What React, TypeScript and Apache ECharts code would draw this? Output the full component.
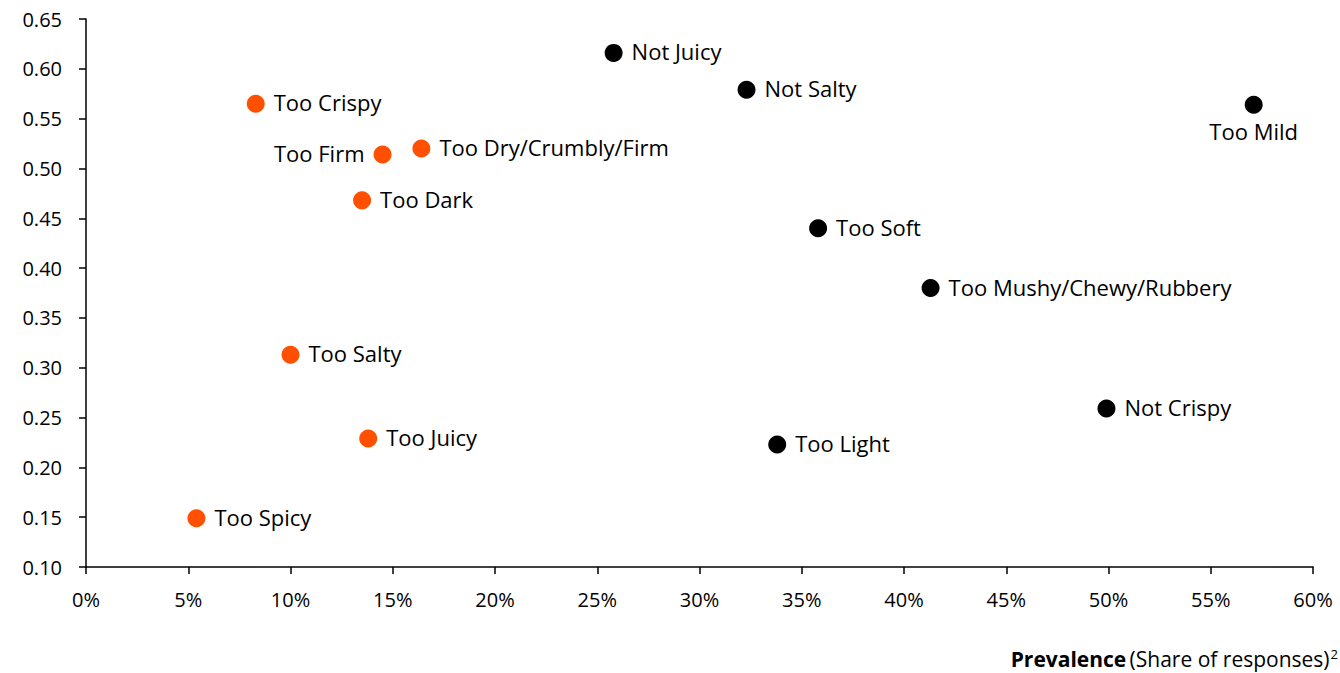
import React, { useEffect, useRef } from "react";
import * as echarts from "echarts";

const blackNames = ["Not Juicy", "Not Salty", "Too Mild", "Too Soft", "Too Mushy/Chewy/Rubbery", "Not Crispy", "Too Light"];
const blackX = [25.8, 32.3, 57.1, 35.8, 41.3, 49.9, 33.8];
const blackY = [0.616, 0.579, 0.564, 0.44, 0.38, 0.259, 0.223];

const orangeNames = ["Too Crispy", "Too Firm", "Too Dry/Crumbly/Firm", "Too Dark", "Too Salty", "Too Juicy", "Too Spicy"];
const orangeX = [8.3, 14.5, 16.4, 13.5, 10.0, 13.8, 5.4];
const orangeY = [0.565, 0.514, 0.52, 0.468, 0.313, 0.229, 0.149];

const labelPos: Record<string, string> = { "Too Firm": "left", "Too Mild": "bottom" };

const FONT = "'Open Sans', 'Noto Sans', sans-serif";

function build(names: string[], xs: number[], ys: number[]) {
  return names.map((n, i) => {
    const pos = labelPos[n] || "right";
    return {
      name: n,
      value: [xs[i], ys[i]],
      label: pos === "bottom" ? { position: pos, distance: 6 } : { position: pos, offset: [0, -1.5] },
    };
  });
}

export default function App() {
  const ref = useRef<HTMLDivElement>(null);
  useEffect(() => {
    const chart = echarts.init(ref.current!, null, { renderer: "svg" });
    const labelStyle = {
      show: true,
      formatter: "{b}",
      fontSize: 22,
      color: "#000",
      fontFamily: FONT,
      distance: 9,
    };
    chart.setOption({
      animation: false,
      grid: { left: 86, right: 27, top: 19, bottom: 106 },
      xAxis: {
        type: "value",
        min: 0,
        max: 60,
        interval: 5,
        splitLine: { show: false },
        axisLine: { lineStyle: { color: "#000", width: 1.5 } },
        axisTick: { show: true, inside: false, length: 7, lineStyle: { color: "#000", width: 1.5 } },
        axisLabel: { formatter: "{value}%", fontSize: 20, color: "#000", fontFamily: FONT, margin: 22 },
      },
      yAxis: {
        type: "value",
        min: 0.1,
        max: 0.65,
        interval: 0.05,
        splitLine: { show: false },
        axisLine: { show: true, lineStyle: { color: "#000", width: 1.5 } },
        axisTick: { show: true, inside: false, length: 7, lineStyle: { color: "#000", width: 1.5 } },
        axisLabel: {
          formatter: (v: number) => v.toFixed(2),
          fontSize: 20,
          color: "#000",
          fontFamily: FONT,
          margin: 24,
        },
      },
      graphic: [
        {
          type: "text",
          right: 2,
          top: 647,
          style: {
            text: "{b|Prevalence} {n|(Share of responses)}{s|2}",
            rich: {
              b: { fontSize: 21, fontWeight: "bold", fontFamily: FONT, fill: "#000" },
              n: { fontSize: 21, fontFamily: FONT, fill: "#000" },
              s: { fontSize: 13, fontFamily: FONT, fill: "#000", verticalAlign: "top", padding: [0, 0, 11, 1] },
            },
          },
        },
      ],
      series: [
        {
          type: "scatter",
          symbolSize: 18,
          itemStyle: { color: "#000", opacity: 1 },
          label: labelStyle,
          data: build(blackNames, blackX, blackY),
        },
        {
          type: "scatter",
          symbolSize: 18,
          itemStyle: { color: "#FE5000", opacity: 1 },
          label: labelStyle,
          data: build(orangeNames, orangeX, orangeY),
        },
      ],
    });
    return () => chart.dispose();
  }, []);
  return <div ref={ref} style={{ position: "fixed", left: 0, top: 0, width: 1340, height: 673, background: "#fff" }} />;
}
